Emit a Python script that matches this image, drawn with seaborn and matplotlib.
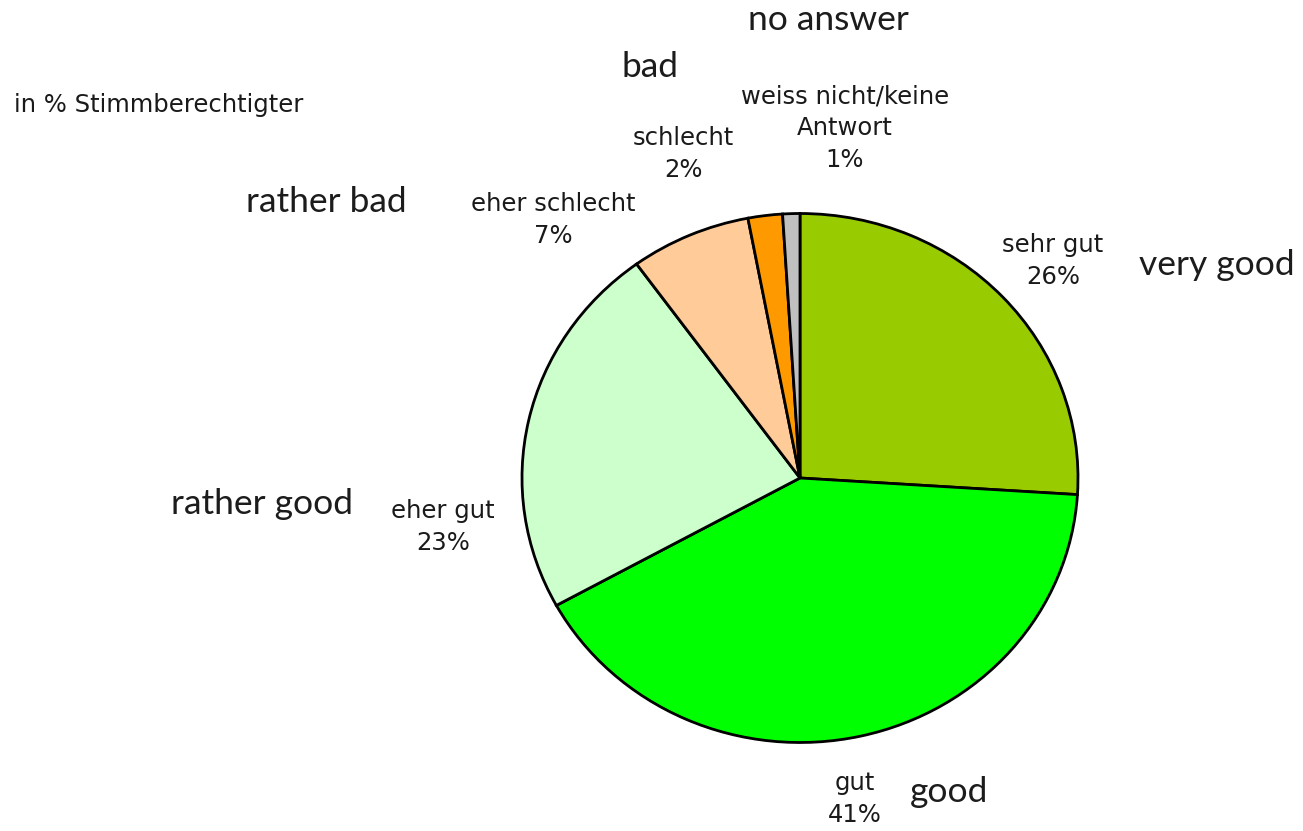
import matplotlib
matplotlib.use("Agg")
import matplotlib.pyplot as plt
import seaborn as sns

# Survey shares (percent of eligible voters)
categories_de = ["sehr gut", "gut", "eher gut", "eher schlecht", "schlecht",
                 "weiss nicht/keine\nAntwort"]
categories_en = ["very good", "good", "rather good", "rather bad", "bad", "no answer"]
shares = [26, 41, 23, 7, 2, 1]
slice_colors = ["#99CC00", "#00FF00", "#CCFFCC", "#FFCC99", "#FF9900", "#C0C0C0"]
subtitle = "in % Stimmberechtigter"

sns.set_theme(style="white")
plt.rcParams["font.family"] = ["DejaVu Sans"]

W, H = 1303, 831
fig = plt.figure(figsize=(W / 100, H / 100), dpi=100)
fig.patch.set_facecolor("white")

# Axes spanning the figure; y stretched so the pie appears slightly flattened
k = 278 / 264.5
ax = fig.add_axes([0, 0, 1, 1])
cx, cy = 800, 478
ax.pie(shares, colors=slice_colors, startangle=90, counterclock=False,
       center=(cx, (H - cy) * k), radius=278,
       wedgeprops=dict(edgecolor="black", linewidth=2.0))
ax.set_aspect("auto")
ax.set_xlim(0, W)
ax.set_ylim(0, H * k)
ax.axis("off")


def put(x, y, s, **kw):
    fig.text(x / W, 1 - y / H, s, **kw)


# German labels with percentages
de_pos = [(1053, 261), (855, 799), (443, 527), (553, 220), (683, 154), (845, 128)]
for (x, y), name, v in zip(de_pos, categories_de, shares):
    put(x, y, f"{name}\n{v}%", ha="center", va="center", fontsize=17.5,
        color="#1a1a1a", linespacing=1.4)

# English annotations
en_pos = [(1217, 265), (949, 792), (262, 504), (326, 202), (650, 67), (828, 20)]
for (x, y), name in zip(en_pos, categories_en):
    put(x, y, name, ha="center", va="center", fontsize=25.5,
        family=["Lato", "DejaVu Sans"], color="#1c1c1c")

put(14, 105, subtitle, ha="left", va="center", fontsize=17.5, color="#1a1a1a")

fig.savefig("out.png", dpi=100, facecolor="white")
